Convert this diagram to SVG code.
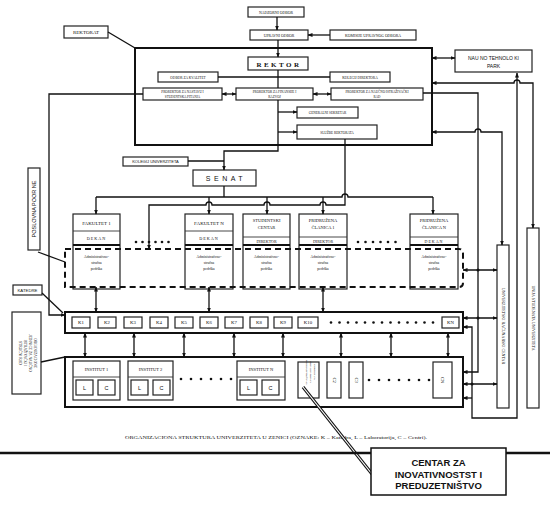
<svg xmlns="http://www.w3.org/2000/svg" width="550" height="505" viewBox="0 0 550 505">
<style>
.b{fill:#fff;stroke:#222;stroke-width:1.2}
.l{fill:none;stroke:#111;stroke-width:1.3}
.lt{stroke:#333;stroke-width:0.9}
.lk{stroke:#111;stroke-width:1.8}
.t{font-family:"Liberation Serif","Times New Roman",serif;fill:#111;text-anchor:middle}
.s{font-family:"Liberation Sans",Arial,sans-serif;fill:#111;text-anchor:middle}
.d{fill:#111}
.dash{fill:none;stroke:#111;stroke-width:2;stroke-dasharray:6 4}
</style>
<defs>
<marker id="a" viewBox="0 0 10 10" refX="9" refY="5" markerWidth="5" markerHeight="5" markerUnits="userSpaceOnUse" orient="auto-start-reverse"><path d="M0,1 L10,5 L0,9 z" fill="#111"/></marker>
</defs>

<!-- top -->
<g id="nadzorni"><rect class="b" x="248" y="7" width="56" height="10"/><text class="t" x="276" y="13.8" font-size="3.8">NADZORNI ODBOR</text></g>
<g id="upravni"><rect class="b" x="250" y="30" width="58" height="10"/><text class="t" x="279" y="36.8" font-size="3.8">UPRAVNI ODBOR</text></g>
<g id="komisije"><rect class="b" x="330" y="30" width="86" height="10"/><text class="t" x="373" y="36.8" font-size="3.8">KOMISIJE UPRAVNOG ODBORA</text></g>
<g id="rektorat-label"><rect class="b" x="64" y="26" width="44" height="12"/><text class="t" x="86" y="34" font-size="5">REKTORAT</text></g>
<g id="rektorat"><rect x="135" y="48" width="297" height="97" fill="none" stroke="#111" stroke-width="2"/></g>
<g id="rektor"><rect class="b" x="248" y="57" width="60" height="13" stroke-width="1.4"/><text class="t" x="279" y="66.5" font-size="7" font-weight="bold" letter-spacing="2.5">REKTOR</text></g>
<g id="kvalitet"><rect class="b" x="158" y="72" width="60" height="10"/><text class="t" x="188" y="78.5" font-size="3.5">ODBOR ZA KVALITET</text></g>
<g id="kolegij-dir"><rect class="b" x="330" y="72" width="60" height="10"/><text class="t" x="360" y="78.5" font-size="3.5">KOLEGIJ DIREKTORA</text></g>
<g id="prorektor1"><rect class="b" x="143" y="88" width="79" height="12"/><text class="t" x="182.5" y="93" font-size="3.3">PROREKTOR ZA NASTAVU I</text><text class="t" x="182.5" y="97.5" font-size="3.3">STUDENTSKA PITANJA</text></g>
<g id="prorektor2"><rect class="b" x="236" y="88" width="77" height="12"/><text class="t" x="274.5" y="93" font-size="3.3">PROREKTOR ZA FINANSIJE I</text><text class="t" x="274.5" y="97.5" font-size="3.3">RAZVOJ</text></g>
<g id="prorektor3"><rect class="b" x="331" y="88" width="92" height="12"/><text class="t" x="377" y="93" font-size="3.3">PROREKTOR ZA NAUČNO ISTRAŽIVAČKI</text><text class="t" x="377" y="97.5" font-size="3.3">RAD</text></g>
<g id="sekretar"><rect class="b" x="297" y="107" width="61" height="11"/><text class="t" x="327.5" y="113.8" font-size="3.4">GENERALNI SEKRETAR</text></g>
<g id="sluzbe"><rect class="b" x="297" y="125" width="80" height="14"/><text class="t" x="337" y="133.5" font-size="3.4">SLUŽBE REKTORATA</text></g>
<g id="ntp"><rect class="b" x="455" y="50" width="77" height="22"/><text class="s" x="493.5" y="59.5" font-size="5">NAU NO TEHNOLO KI</text><text class="s" x="493.5" y="67.5" font-size="5">PARK</text></g>
<g id="kolegij-univ"><rect class="b" x="123" y="157" width="65" height="9"/><text class="s" x="155.5" y="163.2" font-size="4">KOLEGIJ UNIVERZITETA</text></g>
<g id="senat"><rect class="b" x="193" y="170" width="63" height="16" stroke-width="1.4"/><text class="s" x="226" y="181" font-size="7" letter-spacing="3.5">SENAT</text></g>
<g id="poslovna"><rect class="b" x="28" y="168" width="12" height="82"/><text class="s" font-size="5.5" transform="translate(36,209) rotate(-90)">POSLOVNA  POOR NE</text></g>
<g id="katedre-label"><rect class="b" x="13" y="285" width="29" height="10"/><text class="s" x="27.5" y="291.8" font-size="4.3">KATEDRE</text></g>
<g id="org-jedinice"><rect class="b" x="12" y="312" width="29" height="82"/>
<g transform="translate(26.5,353) rotate(90)"><text class="t" x="0" y="-7" font-size="3.6">ORGANIZACIONE</text><text class="t" x="0" y="-2" font-size="3.6">JEDINICE ZA NAUČNO</text><text class="t" x="0" y="3" font-size="3.6">ISTRAŽIVAČKI I</text><text class="t" x="0" y="8" font-size="3.6">STRUČNI RAD</text></g></g>

<!-- faculties -->
<g id="fakultet1"><rect class="b" x="73" y="214" width="47" height="75"/><line class="lt" x1="73" y1="231" x2="120" y2="231"/><line class="lk" x1="73" y1="245" x2="120" y2="245"/>
<text class="t" x="96.5" y="225" font-size="5">FAKULTET 1</text><text class="t" x="96.5" y="240" font-size="4.2" letter-spacing="1">DEKAN</text>
<text class="t" x="96.5" y="258" font-size="3.6">Administrativno-</text><text class="t" x="96.5" y="264" font-size="3.6">stručna</text><text class="t" x="96.5" y="270" font-size="3.6">podrška</text></g>
<g id="fakultetN"><rect class="b" x="185" y="214" width="48" height="75"/><line class="lt" x1="185" y1="231" x2="233" y2="231"/><line class="lk" x1="185" y1="245" x2="233" y2="245"/>
<text class="t" x="209" y="225" font-size="5">FAKULTET N</text><text class="t" x="209" y="240" font-size="4.2" letter-spacing="1">DEKAN</text>
<text class="t" x="209" y="258" font-size="3.6">Administrativno-</text><text class="t" x="209" y="264" font-size="3.6">stručna</text><text class="t" x="209" y="270" font-size="3.6">podrška</text></g>
<g id="studentski"><rect class="b" x="243" y="214" width="47" height="75"/><line class="lt" x1="243" y1="237" x2="290" y2="237"/><line class="lk" x1="243" y1="245" x2="290" y2="245"/>
<text class="t" x="266.5" y="222" font-size="4.5">STUDENTSKI</text><text class="t" x="266.5" y="229" font-size="4.5">CENTAR</text><text class="t" x="266.5" y="243" font-size="4">DIREKTOR</text>
<text class="t" x="266.5" y="258" font-size="3.6">Administrativno-</text><text class="t" x="266.5" y="264" font-size="3.6">stručna</text><text class="t" x="266.5" y="270" font-size="3.6">podrška</text></g>
<g id="clanica1"><rect class="b" x="299" y="214" width="48" height="75"/><line class="lt" x1="299" y1="237" x2="347" y2="237"/><line class="lk" x1="299" y1="245" x2="347" y2="245"/>
<text class="t" x="323" y="222" font-size="4.5">PRIDRUŽENA</text><text class="t" x="323" y="229" font-size="4.5">ČLANICA 1</text><text class="t" x="323" y="243" font-size="4">DIREKTOR</text>
<text class="t" x="323" y="258" font-size="3.6">Administrativno-</text><text class="t" x="323" y="264" font-size="3.6">stručna</text><text class="t" x="323" y="270" font-size="3.6">podrška</text></g>
<g id="clanicaN"><rect class="b" x="410" y="214" width="48" height="75"/><line class="lt" x1="410" y1="237" x2="458" y2="237"/><line class="lk" x1="410" y1="245" x2="458" y2="245"/>
<text class="t" x="434" y="222" font-size="4.5">PRIDRUŽENA</text><text class="t" x="434" y="229" font-size="4.5">ČLANICA N</text><text class="t" x="434" y="243" font-size="4" letter-spacing="1">DEKAN</text>
<text class="t" x="434" y="258" font-size="3.6">Administrativno-</text><text class="t" x="434" y="264" font-size="3.6">stručna</text><text class="t" x="434" y="270" font-size="3.6">podrška</text></g>
<g id="dots-fak"><circle class="d" cx="136" cy="242" r="1.3"/><circle class="d" cx="142.5" cy="242" r="1.3"/><circle class="d" cx="149" cy="242" r="1.3"/><circle class="d" cx="155.5" cy="242" r="1.3"/><circle class="d" cx="162" cy="242" r="1.3"/><circle class="d" cx="168.5" cy="242" r="1.3"/>
<circle class="d" cx="358" cy="242" r="1.3"/><circle class="d" cx="365.5" cy="242" r="1.3"/><circle class="d" cx="373" cy="242" r="1.3"/><circle class="d" cx="380.5" cy="242" r="1.3"/><circle class="d" cx="388" cy="242" r="1.3"/><circle class="d" cx="395.5" cy="242" r="1.3"/></g>
<g id="admin-zone"><path class="dash" d="M65,249 H459 Q463,249 463,253 V283 Q463,287 459,287 H65 Z"/></g>

<!-- katedre -->
<g id="katedre"><rect x="65" y="312" width="398" height="21" fill="#fff" stroke="#111" stroke-width="2"/>
<rect class="b" x="72" y="317" width="18" height="11"/><text class="t" x="81" y="324.3" font-size="4.8">K1</text>
<rect class="b" x="98" y="317" width="18" height="11"/><text class="t" x="107" y="324.3" font-size="4.8">K2</text>
<rect class="b" x="124" y="317" width="18" height="11"/><text class="t" x="133" y="324.3" font-size="4.8">K3</text>
<rect class="b" x="150" y="317" width="18" height="11"/><text class="t" x="159" y="324.3" font-size="4.8">K4</text>
<rect class="b" x="175" y="317" width="18" height="11"/><text class="t" x="184" y="324.3" font-size="4.8">K5</text>
<rect class="b" x="200" y="317" width="18" height="11"/><text class="t" x="209" y="324.3" font-size="4.8">K6</text>
<rect class="b" x="225" y="317" width="18" height="11"/><text class="t" x="234" y="324.3" font-size="4.8">K7</text>
<rect class="b" x="250" y="317" width="18" height="11"/><text class="t" x="259" y="324.3" font-size="4.8">K8</text>
<rect class="b" x="274" y="317" width="18" height="11"/><text class="t" x="283" y="324.3" font-size="4.8">K9</text>
<rect class="b" x="298" y="317" width="20" height="11"/><text class="t" x="308" y="324.3" font-size="4.8">K10</text>
<rect class="b" x="442" y="317" width="17" height="11"/><text class="t" x="450.5" y="324.3" font-size="4.8">KN</text>
<g><circle class="d" cx="331" cy="322.5" r="1.3"/><circle class="d" cx="339.5" cy="322.5" r="1.3"/><circle class="d" cx="348" cy="322.5" r="1.3"/><circle class="d" cx="356.5" cy="322.5" r="1.3"/><circle class="d" cx="365" cy="322.5" r="1.3"/><circle class="d" cx="373.5" cy="322.5" r="1.3"/><circle class="d" cx="382" cy="322.5" r="1.3"/><circle class="d" cx="390.5" cy="322.5" r="1.3"/><circle class="d" cx="399" cy="322.5" r="1.3"/><circle class="d" cx="407.5" cy="322.5" r="1.3"/><circle class="d" cx="416" cy="322.5" r="1.3"/><circle class="d" cx="424.5" cy="322.5" r="1.3"/><circle class="d" cx="433" cy="322.5" r="1.3"/></g></g>

<!-- instituti -->
<g id="instituti"><rect x="65" y="357" width="398" height="50" fill="#fff" stroke="#111" stroke-width="2"/>
<g id="institut1"><rect class="b" x="73" y="361" width="47" height="39"/><line class="lt" x1="73" y1="377" x2="120" y2="377"/><text class="t" x="96.5" y="371" font-size="4.5">INSTITUT 1</text>
<rect class="b" x="76" y="380" width="17" height="15"/><text class="s" x="84.5" y="389.5" font-size="5.5">L</text><rect class="b" x="98" y="380" width="17" height="15"/><text class="s" x="106.5" y="389.5" font-size="5.5">C</text></g>
<g id="institut2"><rect class="b" x="128" y="361" width="45" height="39"/><line class="lt" x1="128" y1="377" x2="173" y2="377"/><text class="t" x="150.5" y="371" font-size="4.5">INSTITUT 2</text>
<rect class="b" x="131" y="380" width="17" height="15"/><text class="s" x="139.5" y="389.5" font-size="5.5">L</text><rect class="b" x="153" y="380" width="17" height="15"/><text class="s" x="161.5" y="389.5" font-size="5.5">C</text></g>
<g id="institutN"><rect class="b" x="237" y="361" width="48" height="39"/><line class="lt" x1="237" y1="377" x2="285" y2="377"/><text class="t" x="261" y="371" font-size="4.5">INSTITUT N</text>
<rect class="b" x="240" y="380" width="17" height="15"/><text class="s" x="248.5" y="389.5" font-size="5.5">L</text><rect class="b" x="262" y="380" width="17" height="15"/><text class="s" x="270.5" y="389.5" font-size="5.5">C</text></g>
<g><circle class="d" cx="181" cy="379" r="1.3"/><circle class="d" cx="191" cy="379" r="1.3"/><circle class="d" cx="201" cy="379" r="1.3"/><circle class="d" cx="211" cy="379" r="1.3"/><circle class="d" cx="221" cy="379" r="1.3"/><circle class="d" cx="231" cy="379" r="1.3"/></g>
<g id="centar-inov"><rect class="b" x="298" y="362" width="21" height="36"/><g transform="translate(308.5,372) rotate(90)"><text class="t" x="0" y="-5" font-size="2.8">CENTAR ZA</text><text class="t" x="0" y="-1" font-size="2.8">INOVATIVNOST I</text><text class="t" x="0" y="3" font-size="2.8">PREDUZETNIŠTVO</text></g></g>
<g id="c2"><rect class="b" x="327" y="362" width="14" height="36"/><text class="t" font-size="4.5" transform="translate(332.5,380) rotate(90)">C2</text></g>
<g id="c3"><rect class="b" x="349" y="362" width="14" height="36"/><text class="t" font-size="4.5" transform="translate(354.5,380) rotate(90)">C3</text></g>
<g id="cn"><rect class="b" x="433" y="362" width="19" height="36"/><text class="t" font-size="4.5" transform="translate(440.5,380) rotate(90)">CN</text></g>
<g><circle class="d" cx="369" cy="380" r="1.3"/><circle class="d" cx="379" cy="380" r="1.3"/><circle class="d" cx="389" cy="380" r="1.3"/><circle class="d" cx="399" cy="380" r="1.3"/><circle class="d" cx="409" cy="380" r="1.3"/><circle class="d" cx="419" cy="380" r="1.3"/><circle class="d" cx="429" cy="380" r="1.3"/></g></g>

<!-- right vertical boxes -->
<g id="racunarski"><rect class="b" x="497" y="245" width="12" height="163"/><text class="t" font-size="4" transform="translate(501.5,326) rotate(90)">UNIVERZITETSKI RAČUNARSKI CENTAR</text></g>
<g id="studenti"><rect class="b" x="527" y="228" width="12" height="180"/><text class="t" font-size="4" transform="translate(531.5,318) rotate(90)">UNIJA STUDENATA UNIVERZITETA</text></g>

<!-- connectors -->
<g id="connectors" class="l">
<path d="M277,17 V30" marker-end="url(#a)"/>
<path d="M330,35 H308" marker-end="url(#a)"/>
<path d="M278,40 V57" marker-end="url(#a)"/>
<path d="M108,32 L135,48"/>
<path d="M218,77 H330"/>
<path d="M278,70 V88"/>
<path d="M222,94 H236" marker-start="url(#a)" marker-end="url(#a)"/>
<path d="M313,94 H331" marker-start="url(#a)" marker-end="url(#a)"/>
<path d="M143,94 H49 V315 H65" marker-end="url(#a)"/>
<path d="M278,100 V151 H224 V170" marker-end="url(#a)"/>
<path d="M278,112 H297" marker-end="url(#a)"/>
<path d="M278,132 H297" marker-end="url(#a)"/>
<path d="M188,161 H224"/>
<path d="M224,186 V197"/>
<path d="M96,197 H342 A3,3 0 0 1 348,197 H433"/>
<path d="M96,197 V214" marker-end="url(#a)"/>
<path d="M209,197 V214" marker-end="url(#a)"/>
<path d="M267,197 V214" marker-end="url(#a)"/>
<path d="M323,197 V214" marker-end="url(#a)"/>
<path d="M433,197 V214" marker-end="url(#a)"/>
<path d="M345,139 V205 H326 A3,3 0 0 0 320,205 H270 A3,3 0 0 0 264,205 H212 A3,3 0 0 0 206,205 H149 V249" marker-end="url(#a)"/>
<path d="M38,252 L65,262"/>
<path d="M42,293 L63,313"/>
<path d="M41,362 L65,357"/>
<path d="M96,287 V312" marker-start="url(#a)" marker-end="url(#a)"/>
<path d="M209,287 V312" marker-start="url(#a)" marker-end="url(#a)"/>
<path d="M323,287 V312" marker-start="url(#a)" marker-end="url(#a)"/>
<path d="M85,333 V357" marker-start="url(#a)" marker-end="url(#a)"/>
<path d="M134,333 V357" marker-start="url(#a)" marker-end="url(#a)"/>
<path d="M184,333 V357" marker-start="url(#a)" marker-end="url(#a)"/>
<path d="M234,333 V357" marker-start="url(#a)" marker-end="url(#a)"/>
<path d="M283,333 V357" marker-start="url(#a)" marker-end="url(#a)"/>
<path d="M341,333 V357" marker-start="url(#a)" marker-end="url(#a)"/>
<path d="M391,333 V357" marker-start="url(#a)" marker-end="url(#a)"/>
<path d="M448,333 V357" marker-start="url(#a)" marker-end="url(#a)"/>
<path d="M432,58 H455" marker-start="url(#a)" marker-end="url(#a)"/>
<path d="M432,83 H514 A3,3 0 0 1 520,83 H533 V228" marker-start="url(#a)" marker-end="url(#a)"/>
<path d="M432,132 H475 A3,3 0 0 1 481,132 H502 V245" marker-start="url(#a)" marker-end="url(#a)"/>
<path d="M423,93 H478 V372 H463" marker-end="url(#a)"/>
<path d="M517,73 V418 H472 V327 H463" marker-start="url(#a)" marker-end="url(#a)"/>
<path d="M472,398 H463" marker-end="url(#a)"/>
<path d="M463,270 H497" marker-start="url(#a)" marker-end="url(#a)"/>
<path d="M463,318 H497" marker-start="url(#a)" marker-end="url(#a)"/>
<path d="M463,384 H497" marker-start="url(#a)" marker-end="url(#a)"/>
</g>
<g id="junctions"><circle class="d" cx="478" cy="270" r="1.5"/><circle class="d" cx="478" cy="318" r="1.5"/><circle class="d" cx="472" cy="384" r="1.5"/></g>

<!-- caption & callout -->
<g id="caption"><text class="t" x="276" y="438.5" font-size="4.8" textLength="302" lengthAdjust="spacingAndGlyphs">ORGANIZACIONA STRUKTURA UNIVERZITETA U ZENICI (OZNAKE: K – Katedra, L – Laboratorija, C – Centri).</text></g>
<g id="callout-line"><path d="M303,387 L372,474" stroke="#111" stroke-width="3.2" fill="none"/><path d="M303,387 L372,474" stroke="#fff" stroke-width="1.2" fill="none"/></g>
<g id="rule"><line x1="0" y1="453" x2="550" y2="453" stroke="#111" stroke-width="2.5"/></g>
<g id="callout"><rect x="371" y="448" width="135" height="47" fill="#fff" stroke="#111" stroke-width="1.5"/>
<text class="s" x="438.5" y="466" font-size="9.5" font-weight="bold">CENTAR ZA</text>
<text class="s" x="438.5" y="477.5" font-size="9.5" font-weight="bold">INOVATIVNOSTST I</text>
<text class="s" x="438.5" y="489" font-size="9.5" font-weight="bold">PREDUZETNIŠTVO</text></g>
</svg>
